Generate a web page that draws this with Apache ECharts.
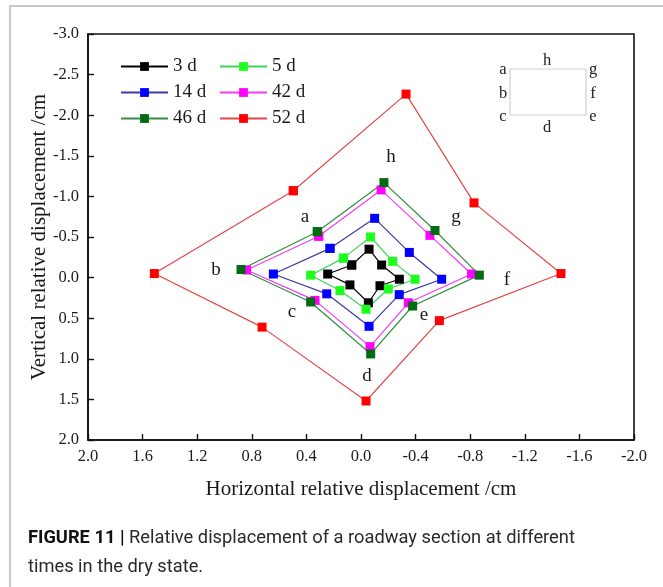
<!DOCTYPE html>
<html>
<head>
<meta charset="utf-8">
<script src="https://cdn.jsdelivr.net/npm/echarts@6/dist/echarts.min.js"></script>
<style>
  html, body { margin: 0; padding: 0; background: #fff; }
  #chart { width: 663px; height: 587px; }
</style>
</head>
<body>
<div id="chart"></div>
<script>
// Measuring points around the roadway section, in drawing order (closed loop a → h → a)
const pointNames = ['a', 'b', 'c', 'd', 'e', 'f', 'g', 'h'];

// Horizontal / vertical relative displacement (cm) per measuring point
const x3d  = [0.068, 0.244, 0.081, -0.054, -0.139, -0.281, -0.151, -0.059];
const y3d  = [-0.155, -0.044, 0.09, 0.31, 0.10, 0.02, -0.155, -0.35];
const x5d  = [0.129, 0.369, 0.154, -0.037, -0.20, -0.396, -0.232, -0.07];
const y5d  = [-0.24, -0.03, 0.16, 0.39, 0.14, 0.02, -0.20, -0.50];
const x14d = [0.227, 0.642, 0.251, -0.059, -0.28, -0.591, -0.354, -0.10];
const y14d = [-0.36, -0.044, 0.20, 0.60, 0.21, 0.02, -0.31, -0.73];
const x42d = [0.31, 0.838, 0.337, -0.066, -0.347, -0.81, -0.505, -0.147];
const y42d = [-0.51, -0.094, 0.28, 0.85, 0.31, -0.044, -0.52, -1.08];
const x46d = [0.32, 0.879, 0.369, -0.071, -0.378, -0.867, -0.542, -0.168];
const y46d = [-0.565, -0.10, 0.30, 0.94, 0.35, -0.03, -0.58, -1.17];
const x52d = [0.496, 1.514, 0.725, -0.037, -0.574, -1.465, -0.828, -0.33];
const y52d = [-1.07, -0.05, 0.61, 1.52, 0.53, -0.05, -0.92, -2.26];

const seriesNames = ['3 d', '5 d', '14 d', '42 d', '46 d', '52 d'];

const serif = 'Liberation Serif';

function loop(xs, ys) {
  const pts = xs.map((x, i) => [x, ys[i]]);
  pts.push(pts[0]);
  return pts;
}

const styles = {
  '3 d':  { line: '#000000', mark: '#000000' },
  '5 d':  { line: '#3fd45a', mark: '#1cff1c' },
  '14 d': { line: '#3a3aa6', mark: '#0000ff' },
  '42 d': { line: '#f23cf2', mark: '#ff00ff' },
  '46 d': { line: '#2f8f3f', mark: '#006b12' },
  '52 d': { line: '#e04848', mark: '#ff0000' }
};

const dataSets = {
  '3 d': loop(x3d, y3d),
  '5 d': loop(x5d, y5d),
  '14 d': loop(x14d, y14d),
  '42 d': loop(x42d, y42d),
  '46 d': loop(x46d, y46d),
  '52 d': loop(x52d, y52d)
};

const chart = echarts.init(document.getElementById('chart'), null, { renderer: 'canvas' });

const fmt = v => v.toFixed(1);

const legendCommon = {
  orient: 'vertical',
  itemWidth: 47,
  itemHeight: 11,
  itemGap: 7,
  textStyle: { fontFamily: serif, fontSize: 19, color: '#1a1a1a' },
  padding: 0
};

// Annotation labels for measuring points (pixel positions inside the plot)
const pointLabels = [
  ['a', 305, 217], ['b', 216, 270], ['c', 292, 312], ['d', 367, 376],
  ['e', 424, 315], ['f', 507, 280], ['g', 456, 217], ['h', 391, 157]
];

// Inset sketch of the section with point positions
const insetLabels = [
  ['a', 503, 70], ['h', 547, 61], ['g', 593, 70],
  ['b', 503, 94], ['f', 593, 94],
  ['c', 503, 117], ['e', 593, 117], ['d', 547, 128]
];

const graphics = [
  {
    type: 'rect', silent: true,
    shape: { x: 10, y: 6, width: 680, height: 700 },
    style: { fill: 'none', stroke: '#c9c9c9', lineWidth: 2 }
  },
  {
    type: 'rect', silent: true,
    shape: { x: 510, y: 69, width: 76, height: 46 },
    style: { fill: 'none', stroke: '#d0d0d0', lineWidth: 1.2 }
  }
];
insetLabels.forEach(([t, x, y]) => graphics.push({
  type: 'text', silent: true, x, y,
  style: { text: t, fontFamily: serif, fontSize: 16.5, fill: '#222', align: 'center', verticalAlign: 'middle' }
}));
pointLabels.forEach(([t, x, y]) => graphics.push({
  type: 'text', silent: true, x, y,
  style: { text: t, fontFamily: serif, fontSize: 19, fill: '#1a1a1a', align: 'center', verticalAlign: 'middle' }
}));
graphics.push({
  type: 'text', silent: true, x: 28, y: 524,
  style: {
    text: '{b|FIGURE 11 |} Relative displacement of a roadway section at different\ntimes in the dry state.',
    fontFamily: 'Roboto', fontSize: 18.3, fill: '#2a2a2a', lineHeight: 29,
    rich: { b: { fontFamily: 'Roboto', fontWeight: 'bold', fontSize: 18.3, fill: '#111', lineHeight: 29 } }
  }
});

chart.setOption({
  backgroundColor: '#ffffff',
  animation: false,
  grid: {
    left: 88, top: 34, width: 546, height: 406,
    show: true, borderColor: '#111', borderWidth: 1.6
  },
  legend: [
    Object.assign({}, legendCommon, { left: 120, top: 57, data: ['3 d', '14 d', '46 d'] }),
    Object.assign({}, legendCommon, { left: 219, top: 57, data: ['5 d', '42 d', '52 d'] })
  ],
  xAxis: {
    type: 'value', min: -2, max: 2, interval: 0.4, inverse: true, position: 'bottom',
    name: 'Horizontal relative displacement /cm',
    nameLocation: 'middle', nameGap: 39, nameMoveOverlap: false,
    nameTextStyle: { fontFamily: serif, fontSize: 21, color: '#1a1a1a' },
    axisLine: { show: true, onZero: false, lineStyle: { color: '#111', width: 1.6 } },
    axisTick: { show: true, inside: true, length: 6, lineStyle: { color: '#111', width: 1.4 } },
    axisLabel: { fontFamily: serif, fontSize: 16.5, color: '#1a1a1a', margin: 8, formatter: fmt },
    splitLine: { show: false }
  },
  yAxis: {
    type: 'value', min: -3, max: 2, interval: 0.5, inverse: true, position: 'left',
    name: 'Vertical relative displacement /cm',
    nameLocation: 'middle', nameGap: 38, nameMoveOverlap: false,
    nameTextStyle: { fontFamily: serif, fontSize: 21, color: '#1a1a1a' },
    axisLine: { show: true, onZero: false, lineStyle: { color: '#111', width: 1.6 } },
    axisTick: { show: true, inside: true, length: 6, lineStyle: { color: '#111', width: 1.4 } },
    axisLabel: { fontFamily: serif, fontSize: 16.5, color: '#1a1a1a', margin: 9, formatter: fmt },
    splitLine: { show: false }
  },
  series: seriesNames.map(name => ({
    name,
    type: 'line',
    data: dataSets[name],
    symbol: 'rect',
    symbolSize: 9,
    showAllSymbol: true,
    lineStyle: { color: styles[name].line, width: 1.2 },
    itemStyle: { color: styles[name].mark },
    emphasis: { disabled: true }
  })),
  graphic: graphics
});
</script>
</body>
</html>
